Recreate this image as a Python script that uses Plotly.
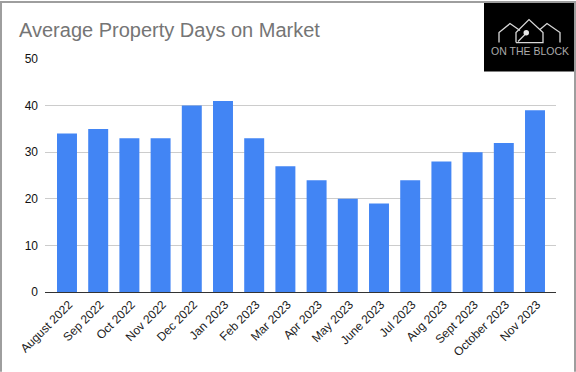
import plotly.graph_objects as go

months = ["August 2022", "Sep 2022", "Oct 2022", "Nov 2022", "Dec 2022", "Jan 2023", "Feb 2023", "Mar 2023",
          "Apr 2023", "May 2023", "June 2023", "Jul 2023", "Aug 2023", "Sept 2023", "October 2023", "Nov 2023"]
days = [34, 35, 33, 33, 40, 41, 33, 27, 24, 20, 19, 24, 28, 30, 32, 39]
y_ticks = [0, 10, 20, 30, 40, 50]
title_text = "Average Property Days on Market"
logo_text = "ON THE BLOCK"

W, H = 576, 372
L, R, T, B = 45, 20, 58.5, 80
FONT = "Liberation Sans, Arial, sans-serif"

def px(x):
    return (x - L) / (W - L - R)

def py(y):
    return (H - B - y) / (H - T - B)

def line(pts, color="#d8d8d8", width=1.3):
    d = "M" + " L".join(f"{px(x):.5f},{py(y):.5f}" for x, y in pts)
    return dict(type="path", path=d, xref="paper", yref="paper",
                line=dict(color=color, width=width), layer="above")

shapes = [
    dict(type="rect", xref="paper", yref="paper", x0=px(484), x1=px(575), y0=py(71), y1=py(2),
         fillcolor="#000000", line=dict(width=0), layer="above"),
    # houses of the logo
    line([(499, 42), (499, 32), (510, 23), (520, 30)]),
    line([(516, 42), (516, 32), (529, 19), (543, 32), (543, 42), (516, 42)]),
    line([(540, 29), (547, 23), (560, 32), (560, 42)]),
    line([(518, 41), (526, 33)]),
    dict(type="circle", xref="paper", yref="paper", x0=px(523.5), x1=px(529), y0=py(35), y1=py(29.5),
         fillcolor="#e8e8e8", line=dict(width=0), layer="above"),
    # outer frame
    line([(1, 372), (1, 1.5), (575, 1.5), (575, 372)], color="#9e9e9e", width=2),
]

fig = go.Figure(go.Bar(x=list(range(len(months))), y=days, marker=dict(color="#4285f4", line=dict(width=0)),
                       width=0.64))
fig.update_layout(
    width=W, height=H, autosize=False,
    margin=dict(l=L, r=R, t=T, b=B, pad=0),
    paper_bgcolor="white", plot_bgcolor="white",
    showlegend=False,
    font=dict(family=FONT, color="#222222", size=12),
    title=dict(text=title_text, x=19 / W, xanchor="left", xref="container", y=1 - 30 / H, yanchor="middle",
               yref="container", font=dict(family=FONT, size=20, color="#757575")),
    xaxis=dict(range=[-0.705, 15.673], tickmode="array", tickvals=list(range(len(months))), ticktext=months,
               tickangle=-45, ticks="", showgrid=False, zeroline=False, showline=True,
               linecolor="#333333", linewidth=1, tickfont=dict(size=12, color="#222222"), ticklabelshift=2),
    yaxis=dict(range=[0, 50], tickmode="array", tickvals=y_ticks, ticks="", showgrid=True,
               gridcolor="#cccccc", gridwidth=1, zeroline=False, showline=False,
               tickfont=dict(size=12, color="#111111"), ticklabelstandoff=6),
    shapes=shapes,
    annotations=[dict(text=logo_text, xref="paper", yref="paper", x=px(529.5), y=py(50), xanchor="center",
                      yanchor="middle", showarrow=False, font=dict(family=FONT, size=10.5, color="#aaaaaa"))],
)
fig.write_html("out.html", config=dict(displayModeBar=False),
               post_script="document.body.style.margin='0';document.documentElement.style.overflow='hidden';")
